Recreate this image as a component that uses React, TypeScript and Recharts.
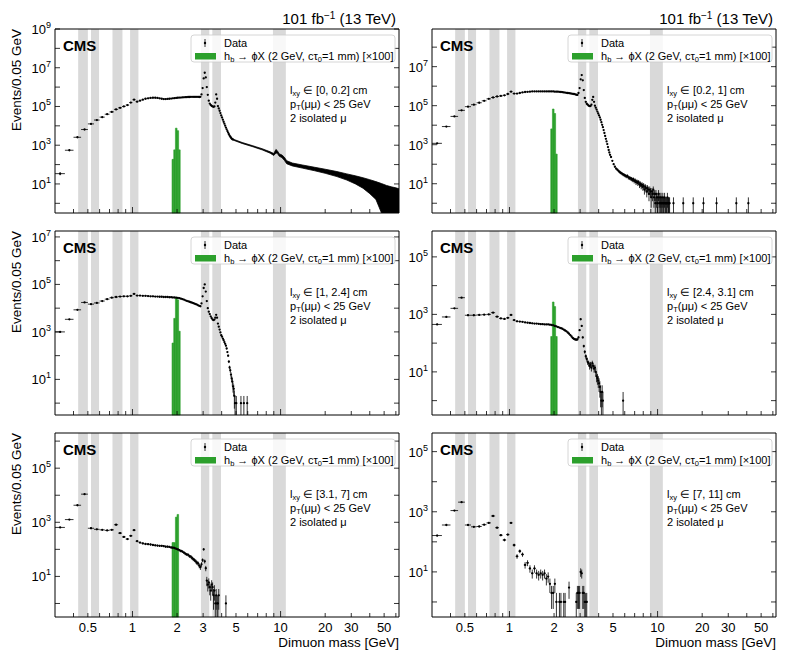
import React from 'react';
import { Area, ComposedChart, ErrorBar, ReferenceArea, Scatter, XAxis, YAxis } from 'recharts';

const FONT = '"Liberation Sans", Arial, Helvetica, sans-serif';
const PLOT_W = 344;
const PLOT_H = 184;
const ML = 50;
const MR = 12;
const MT = 22;
const MB = 36;
const X_MIN = 0.3;
const X_MAX = 63;
const Y_MIN = 10 ** -0.5;
const _ = null;

const xTicks = [0.4, 0.5, 0.6, 0.7, 0.8, 0.9, 1, 2, 3, 4, 5, 6, 7, 8, 9, 10, 20, 30, 40, 50, 60];
const xTickLabels = [0.5, 1, 2, 3, 5, 10, 20, 30, 50];

// resonance windows shaded in grey
const vetoBands = [
  [0.43, 0.5], [0.525, 0.595], [0.733, 0.856], [0.964, 1.097],
  [2.9, 3.3], [3.46, 3.96], [8.88, 10.85],
];

// 0.05 GeV bins drawn as single points
const massBins = [
  0.325, 0.375, 0.425, 0.475, 0.525, 0.575, 0.625, 0.675, 0.725, 0.775,
  0.825, 0.875, 0.925, 0.975, 1.025, 1.075, 1.125, 1.175, 1.225, 1.275,
  1.325, 1.375, 1.425, 1.475, 1.525, 1.575, 1.625, 1.675, 1.725, 1.775,
  1.825, 1.875, 1.925, 1.975, 2.025, 2.075, 2.125, 2.175, 2.225, 2.275,
  2.325, 2.375, 2.425, 2.475, 2.525, 2.575, 2.625, 2.675, 2.725, 2.775,
  2.825, 2.875, 2.925, 2.975, 3.025, 3.075, 3.125, 3.175, 3.225, 3.275,
  3.325, 3.375, 3.425, 3.475, 3.525, 3.575, 3.625, 3.675, 3.725, 3.775,
  3.825, 3.875, 3.925, 3.975, 4.025, 4.075, 4.125, 4.175, 4.225, 4.275,
  4.325, 4.375, 4.425, 4.475, 4.525, 4.575, 4.625, 4.675, 4.725, 4.775,
];

// log10(events) per bin, one list per lxy slice
const log0to02 = [
  1.53, 2.74, 3.41, 3.81, 4.1, 4.3, 4.45, 4.6, 4.72, 4.85,
  4.93, 5.0, 5.07, 5.2, 5.35, 5.25, 5.3, 5.35, 5.4, 5.42,
  5.44, 5.45, 5.45, 5.44, 5.42, 5.4, 5.38, 5.38, 5.39, 5.4,
  5.41, 5.42, 5.43, 5.44, 5.45, 5.46, 5.46, 5.47, 5.47, 5.48,
  5.48, 5.49, 5.49, 5.5, 5.5, 5.5, 5.5, 5.5, 5.5, 5.5,
  5.49, 5.5, 5.62, 5.95, 6.45, 6.74, 6.5, 6.0, 5.6, 5.3,
  5.15, 5.08, 5.03, 5.0, 4.98, 5.0, 5.2, 5.62, 5.4, 5.02,
  4.9, 4.78, 4.66, 4.54, 4.43, 4.32, 4.21, 4.11, 4.01, 3.91,
  3.82, 3.73, 3.65, 3.57, 3.5, 3.44, 3.39, 3.34, 3.31, 3.29,
];
const log02to1 = [
  3.07, 3.93, 4.45, 4.76, 4.95, 5.05, 5.15, 5.25, 5.35, 5.42,
  5.47, 5.5, 5.53, 5.6, 5.72, 5.62, 5.62, 5.65, 5.68, 5.7,
  5.71, 5.72, 5.73, 5.73, 5.73, 5.73, 5.73, 5.73, 5.73, 5.73,
  5.73, 5.73, 5.73, 5.73, 5.72, 5.72, 5.72, 5.71, 5.7, 5.69,
  5.68, 5.67, 5.66, 5.65, 5.64, 5.63, 5.62, 5.61, 5.6, 5.58,
  5.56, 5.55, 5.65, 5.9, 6.35, 6.57, 6.3, 5.8, 5.4, 5.2,
  5.1, 5.05, 5.0, 4.98, 4.98, 5.05, 5.3, 5.45, 5.2, 5.0,
  4.9, 4.8, 4.7, 4.6, 4.5, 4.4, 4.28, 4.15, 4.02, 3.9,
  3.75, 3.6, 3.45, 3.3, 3.17, 3.03, 2.88, 2.73, 2.6, 2.48,
];
const log1to24 = [
  3.0, 3.53, 3.93, 4.24, 4.17, 4.22, 4.3, 4.38, 4.44, 4.47,
  4.49, 4.5, 4.5, 4.52, 4.6, 4.53, 4.53, 4.52, 4.52, 4.51,
  4.5, 4.5, 4.49, 4.49, 4.48, 4.48, 4.47, 4.47, 4.47, 4.46,
  4.46, 4.45, 4.45, 4.44, 4.43, 4.42, 4.4, 4.38, 4.36, 4.33,
  4.31, 4.29, 4.27, 4.25, 4.23, 4.21, 4.19, 4.17, 4.15, 4.12,
  4.1, 4.08, 4.2, 4.5, 4.85, 5.0, 4.7, 4.3, 4.0, 3.85,
  3.75, 3.65, 3.58, 3.52, 3.5, 3.52, 3.6, 3.72, 3.6, 3.35,
  3.22, 3.1, 2.98, 2.86, 2.8, 2.72, 2.65, 2.57, 2.5, 2.42,
  2.3, 2.15, 2.0, 1.75, 1.5, 1.38, 1.2, 1.05, 0.9, 0.7,
];
const log24to31 = [
  2.65, 2.91, 3.21, 3.58, 2.97, 2.97, 2.98, 2.99, 3.0, 3.06,
  2.92, 2.86, 2.84, 2.88, 2.98, 2.8, 2.76, 2.75, 2.74, 2.72,
  2.71, 2.7, 2.69, 2.68, 2.68, 2.67, 2.66, 2.66, 2.65, 2.65,
  2.65, 2.64, 2.63, 2.62, 2.6, 2.58, 2.56, 2.54, 2.52, 2.5,
  2.47, 2.44, 2.41, 2.37, 2.33, 2.28, 2.23, 2.18, 2.15, 2.13,
  2.12, 2.13, 2.2, 2.45, 2.83, 2.6, 2.2, 1.9, 1.7, 1.55,
  1.45, 1.35, 1.3, 1.2, 1.25, 1.15, 1.3, 1.2, 1.1, 1.15,
  1.0, 0.85, 0.78, 0.7, 0.6, 0.48, 0.3, 0, 0.3, 0,
  _, _, _, _, _, _, _, _, _, _,
];
const log31to7 = [
  2.81, 3.1, 3.63, 4.04, 2.78, 2.74, 2.72, 2.7, 2.72, 2.91,
  2.6, 2.46, 2.38, 2.5, 2.71, 2.3, 2.25, 2.22, 2.2, 2.19,
  2.18, 2.16, 2.15, 2.14, 2.13, 2.13, 2.12, 2.1, 2.1, 2.09,
  2.07, 2.06, 2.05, 2.02, 2.0, 1.97, 1.94, 1.92, 1.88, 1.84,
  1.81, 1.8, 1.75, 1.73, 1.68, 1.63, 1.6, 1.56, 1.5, 1.48,
  1.4, 1.35, 1.45, 1.6, 2.0, 1.56, 1.3, 0.85, 0.7, 0.78,
  0.6, 0.48, 0.7, 0.6, 0.3, 0.48, 0, 0.3, 0, 0,
  0.3, _, _, _, _, _, _, _, _, 0,
  _, _, _, _, _, _, _, _, _, _,
];
const log7to11 = [
  2.21, 2.56, 3.04, 3.32, 2.56, 2.5, 2.51, 2.57, 2.63, 2.86,
  2.47, 2.22, 2.06, 2.24, 2.63, 1.89, 1.52, 1.69, 1.58, 1.24,
  1.3, 1.1, 0.97, 1.13, 0.95, 0.91, 0.97, 0.9, 0.95, 0.8,
  0.85, 0.6, 0.3, 0.3, 0.6, 0, _, 0, 0, _,
  0, 0, _, _, 0.48, _, _, _, _, _,
  0, 0.3, 0.3, 0.3, 1.0, 0.95, 0.3, 0.3, 0, 0,
  0, _, _, _, _, _, _, _, _, _,
  _, _, _, _, _, _, _, _, _, _,
  _, _, _, _, _, _, _, _, _, _,
];

// [0, 0.2] cm: the dense high-mass continuum, drawn as its envelope (log10)
const contMass = [4.8, 5.5, 6.5, 7.5, 8.5, 9.0, 9.3, 9.5, 9.8, 10.2, 10.6, 11.0, 12, 14, 17, 20, 24, 28, 32, 36, 40, 44, 48, 52, 56, 60, 63];
const contHi = [3.31, 3.14, 2.97, 2.82, 2.66, 2.57, 2.78, 2.72, 2.55, 2.5, 2.38, 2.2, 2.08, 1.98, 1.86, 1.76, 1.64, 1.52, 1.42, 1.32, 1.22, 1.12, 1.02, 0.92, 0.85, 0.8, 0.75];
const contLo = [3.26, 3.09, 2.92, 2.76, 2.59, 2.47, 2.6, 2.58, 2.43, 2.36, 2.22, 2.04, 1.93, 1.82, 1.68, 1.55, 1.38, 1.2, 1.0, 0.78, 0.5, 0.2, -0.5, -0.5, -0.5, -0.5, -0.5];

// high-mass tails (events per bin)
const tail02to1Mass = [
  4.85, 4.95, 5.05, 5.15, 5.25, 5.35, 5.45, 5.55, 5.65, 5.75,
  5.85, 5.95, 6.05, 6.15, 6.25, 6.35, 6.45, 6.55, 6.65, 6.75,
  6.85, 6.95, 7.05, 7.15, 7.25, 7.35, 7.45, 7.55, 7.65, 7.75,
  7.85, 7.95, 8.05, 8.15, 8.25, 8.35, 8.45, 8.55, 8.65, 8.75,
  8.85, 8.95, 9.05, 9.15, 9.25, 9.35, 9.45, 9.55, 9.65, 9.75,
  9.85, 9.95, 10.05, 10.15, 10.25, 10.35, 10.45, 10.55, 10.65, 10.75,
  10.85, 10.95, 11.05, 11.15, 11.25, 11.35, 11.45, 11.55, 11.65, 11.75,
  11.85, 11.95, 12.05, 12.8, 14.9, 17.4, 20.4, 25, 34, 41,
];
const tail02to1Events = [
  234, 150, 100, 75, 60, 52, 45, 40, 36, 33,
  30, 28, 26, 24, 25, 21, 20, 19, 18, 16,
  17, 14, 15, 12, 13, 11, 12, 9, 10, 8,
  9, 7, 8, 5, 7, 6, 4, 6, 5, 3,
  5, 4, 2, 4, 3, 5, 2, 3, 1, 3,
  2, 1, 2, 3, 1, 2, 1, 2, 1, 1,
  2, 1, 1, 2, 1, 1, 1, 1, 2, 1,
  1, 1, 1, 1, 1, 1, 1, 1, 1, 1,
];
const tail1to24Mass = [4.825, 4.875, 4.925, 5.025, 5.4, 5.65, 5.95];
const tail1to24Events = [4, 2, 1, 1, 1, 1, 1];
const tail24to31Mass = [5.85];
const tail24to31Events = [1];

// signal histogram (x100), log10 per bin
const signalEdges = [1.85, 1.9, 1.95, 2.0, 2.05, 2.1];
const sig0to02 = [2.27, 2.76, 3.88, 3.75, 2.76];
const sig02to1 = [_, 3.81, 4.83, 4.6, 2.52];
const sig1to24 = [2.53, 3.57, 4.43, 4.35, 3.03];
const sig24to31 = [_, 2.23, 3.43, 3.27, 2.23];
const sig31to7 = [2.25, 2.25, 3.19, 3.29, _];
const sig7to11 = [_, _, _, _, _];

type Pt = { m: number; n: number; ex: number; ey: [number, number] };

const withErrors = (m: number, n: number): Pt => {
  const s = Math.sqrt(n);
  return { m, n, ex: 0.025, ey: [Math.min(s, n - Y_MIN), s] };
};

const binPoints = (logs: (number | null)[]): Pt[] =>
  massBins.flatMap((m, i) => (logs[i] == null ? [] : [withErrors(m, Math.round(10 ** (logs[i] as number)))]));

const tailPoints = (mass: number[], events: number[]): Pt[] => mass.map((m, i) => withErrors(m, events[i]));

type PanelDef = {
  left: number;
  top: number;
  yMax: number;
  lxy: string;
  points: Pt[];
  tail: Pt[];
  cont: { m: number; band: [number, number] }[] | null;
  signal: (number | null)[];
  row: number;
  col: number;
};

const panels: PanelDef[] = [
  {
    left: 55, top: 29, yMax: 1e9, lxy: '[0, 0.2]', row: 0, col: 0,
    points: binPoints(log0to02), tail: [],
    cont: contMass.map((m, i) => ({ m, band: [10 ** contLo[i], 10 ** contHi[i]] })),
    signal: sig0to02,
  },
  {
    left: 432, top: 29, yMax: 10 ** 8.93, lxy: '[0.2, 1]', row: 0, col: 1,
    points: binPoints(log02to1), tail: tailPoints(tail02to1Mass, tail02to1Events), cont: null, signal: sig02to1,
  },
  {
    left: 55, top: 231, yMax: 10 ** 7.25, lxy: '[1, 2.4]', row: 1, col: 0,
    points: binPoints(log1to24), tail: tailPoints(tail1to24Mass, tail1to24Events), cont: null, signal: sig1to24,
  },
  {
    left: 432, top: 231, yMax: 10 ** 5.9, lxy: '[2.4, 3.1]', row: 1, col: 1,
    points: binPoints(log24to31), tail: tailPoints(tail24to31Mass, tail24to31Events), cont: null, signal: sig24to31,
  },
  {
    left: 55, top: 433, yMax: 10 ** 6.3, lxy: '[3.1, 7]', row: 2, col: 0,
    points: binPoints(log31to7), tail: [], cont: null, signal: sig31to7,
  },
  {
    left: 432, top: 433, yMax: 10 ** 5.62, lxy: '[7, 11]', row: 2, col: 1,
    points: binPoints(log7to11), tail: [], cont: null, signal: sig7to11,
  },
];

const decades = (yMax: number) => {
  const out: number[] = [];
  for (let e = 0; 10 ** e <= yMax * 1.0001; e++) out.push(10 ** e);
  return out;
};

const dot = (props: any) => <circle cx={props.cx} cy={props.cy} r={1.15} fill="#000" />;

const bottomTick = (showLabel: boolean) => (props: any) => {
  const { x, y, payload } = props;
  const v = payload.value as number;
  const major = v === 1 || v === 10;
  return (
    <g>
      <line x1={x} x2={x} y1={y} y2={y - (major ? 6 : 4)} stroke="#000" strokeWidth={0.8} />
      {showLabel && xTickLabels.includes(v) && (
        <text x={x} y={y + 15} textAnchor="middle" fontSize={13} fontFamily={FONT} fill="#000">
          {v}
        </text>
      )}
    </g>
  );
};

const topTick = (props: any) => {
  const { x, y, payload } = props;
  const major = payload.value === 1 || payload.value === 10;
  return <line x1={x} x2={x} y1={y} y2={y + (major ? 6 : 4)} stroke="#000" strokeWidth={0.8} />;
};

const leftTick = (props: any) => {
  const { x, y, payload } = props;
  const exp = Math.round(Math.log10(payload.value));
  return (
    <g>
      <line x1={x} x2={x + 5} y1={y} y2={y} stroke="#000" strokeWidth={0.8} />
      {exp % 2 === 1 && (
        <text x={x - 4} y={y + 5} textAnchor="end" fontSize={13} fontFamily={FONT} fill="#000">
          10
          <tspan dy={-6} fontSize={9}>
            {exp}
          </tspan>
        </text>
      )}
    </g>
  );
};

const rightTick = (props: any) => {
  const { x, y } = props;
  return <line x1={x} x2={x - 5} y1={y} y2={y} stroke="#000" strokeWidth={0.8} />;
};

// axes are 1px thick so that recharts draws them; margins are trimmed by that pixel
const Panel = ({ p }: { p: PanelDef }) => {
  const yDomain = [Y_MIN, p.yMax];
  const yTicks = decades(p.yMax);
  return (
    <div style={{ position: 'absolute', left: p.left - ML, top: p.top - MT }}>
      <ComposedChart
        width={PLOT_W + ML + MR}
        height={PLOT_H + MT + MB}
        margin={{ top: MT - 1, right: MR - 1, bottom: MB - 1, left: ML - 1 }}
      >
        <XAxis
          type="number"
          dataKey="m"
          scale="log"
          domain={[X_MIN, X_MAX]}
          allowDataOverflow
          ticks={xTicks}
          interval={0}
          height={1}
          tickSize={0}
          tickMargin={0}
          tickLine={false}
          axisLine={{ stroke: '#000', strokeWidth: 1 }}
          tick={bottomTick(p.row === 2)}
        />
        <XAxis
          xAxisId="top"
          orientation="top"
          type="number"
          scale="log"
          domain={[X_MIN, X_MAX]}
          allowDataOverflow
          ticks={xTicks}
          interval={0}
          height={1}
          tickSize={0}
          tickMargin={0}
          tickLine={false}
          axisLine={{ stroke: '#000', strokeWidth: 1 }}
          tick={topTick}
        />
        <YAxis
          type="number"
          dataKey="n"
          scale="log"
          domain={yDomain}
          allowDataOverflow
          ticks={yTicks}
          interval={0}
          width={1}
          tickSize={0}
          tickMargin={0}
          tickLine={false}
          axisLine={{ stroke: '#000', strokeWidth: 1 }}
          tick={leftTick}
        />
        <YAxis
          yAxisId="right"
          orientation="right"
          type="number"
          scale="log"
          domain={yDomain}
          allowDataOverflow
          ticks={yTicks}
          interval={0}
          width={1}
          tickSize={0}
          tickMargin={0}
          tickLine={false}
          axisLine={{ stroke: '#000', strokeWidth: 1 }}
          tick={rightTick}
        />
        {vetoBands.map(([a, b]) => (
          <ReferenceArea key={`veto-${a}`} x1={a} x2={b} fill="#d9d9d9" fillOpacity={1} stroke="none" />
        ))}
        {p.signal.map((v, i) =>
          v == null ? null : (
            <ReferenceArea
              key={`sig-${i}`}
              x1={signalEdges[i]}
              x2={signalEdges[i + 1]}
              y1={Y_MIN}
              y2={10 ** v}
              fill="#2ca02c"
              fillOpacity={1}
              stroke="#2ca02c"
              strokeWidth={0.6}
            />
          ),
        )}
        {p.cont && (
          <Area
            data={p.cont}
            dataKey="band"
            type="linear"
            stroke="#000"
            strokeWidth={0.8}
            fill="#000"
            fillOpacity={1}
            isAnimationActive={false}
          />
        )}
        <Scatter data={p.points} shape={dot} isAnimationActive={false}>
          <ErrorBar dataKey="ey" direction="y" width={0} stroke="#000" strokeWidth={0.8} />
          <ErrorBar dataKey="ex" direction="x" width={0} stroke="#000" strokeWidth={0.8} />
        </Scatter>
        {p.tail.length > 0 && (
          <Scatter data={p.tail} shape={dot} isAnimationActive={false}>
            <ErrorBar dataKey="ey" direction="y" width={0} stroke="#000" strokeWidth={0.8} />
            <ErrorBar dataKey="ex" direction="x" width={0} stroke="#000" strokeWidth={0.8} />
          </Scatter>
        )}
      </ComposedChart>
    </div>
  );
};

const PanelText = ({ p }: { p: PanelDef }) => {
  const L = p.left;
  const T = p.top;
  return (
    <g fontFamily={FONT} fill="#000">
      {p.row === 0 && (
        <text x={L + PLOT_W - 3} y={T - 5} textAnchor="end" fontSize={15}>
          101 fb<tspan dy={-5.5} fontSize={10}>−1</tspan>
          <tspan dy={5.5}> (13 TeV)</tspan>
        </text>
      )}
      {p.col === 0 && (
        <text transform={`translate(21, ${T}) rotate(-90)`} textAnchor="end" fontSize={13.5}>
          Events/0.05 GeV
        </text>
      )}
      {p.row === 2 && (
        <text x={L + PLOT_W} y={T + PLOT_H + 30} textAnchor="end" fontSize={13.5}>
          Dimuon mass [GeV]
        </text>
      )}
      <text x={L + 8} y={T + 22} fontSize={15} fontWeight="bold">
        CMS
      </text>
      <rect x={L + 136} y={T + 6} width={204} height={27} rx={3} fill="#fff" fillOpacity={0.8} stroke="#cccccc" strokeWidth={0.8} />
      <line x1={L + 150} x2={L + 150} y1={T + 10} y2={T + 18} stroke="#000" strokeWidth={0.8} />
      <circle cx={L + 150} cy={T + 14} r={1.2} fill="#000" />
      <rect x={L + 140} y={T + 24} width={21} height={6.5} fill="#2ca02c" />
      <text x={L + 169} y={T + 18} fontSize={11}>
        Data
      </text>
      <text x={L + 169} y={T + 31} fontSize={11}>
        h<tspan dy={2} fontSize={7.5}>b</tspan>
        <tspan dy={-2}> → ϕX (2 GeV, cτ</tspan>
        <tspan dy={2} fontSize={7.5}>0</tspan>
        <tspan dy={-2}>=1 mm) [×100]</tspan>
      </text>
      <text x={L + 235} y={T + 65} fontSize={11}>
        l<tspan dy={2} fontSize={7.5}>xy</tspan>
        <tspan dy={-2}> ∈ {p.lxy} cm</tspan>
      </text>
      <text x={L + 235} y={T + 79} fontSize={11}>
        p<tspan dy={2} fontSize={7.5}>T</tspan>
        <tspan dy={-2}>(μμ) &lt; 25 GeV</tspan>
      </text>
      <text x={L + 235} y={T + 93} fontSize={11}>
        2 isolated μ
      </text>
    </g>
  );
};

export default function App() {
  return (
    <div style={{ position: 'absolute', left: 0, top: 0, width: 789, height: 663, background: '#fff', fontFamily: FONT }}>
      {panels.map((p) => (
        <Panel key={p.lxy} p={p} />
      ))}
      <svg width={789} height={663} style={{ position: 'absolute', left: 0, top: 0, pointerEvents: 'none' }}>
        {panels.map((p) => (
          <PanelText key={p.lxy} p={p} />
        ))}
      </svg>
    </div>
  );
}
